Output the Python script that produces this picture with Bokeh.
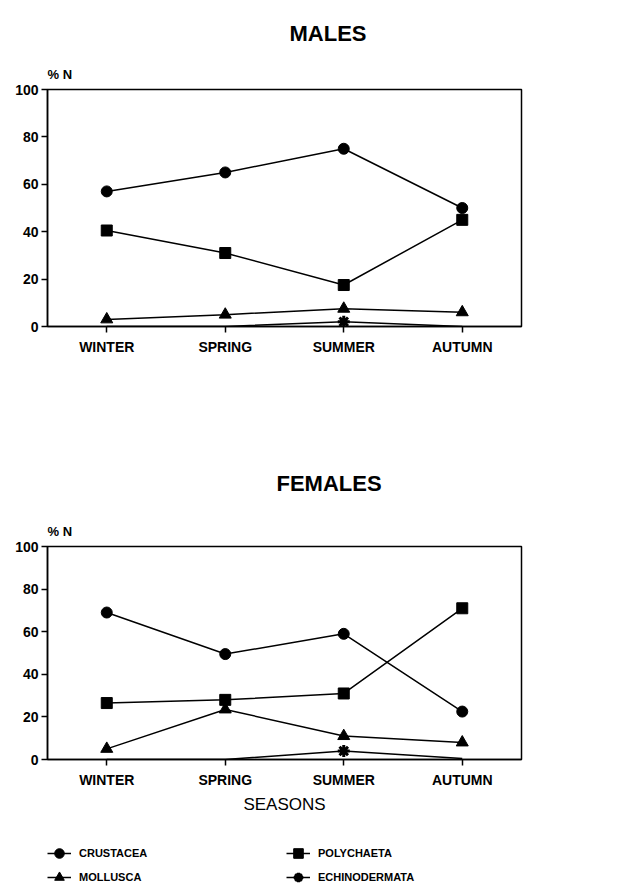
from bokeh.plotting import figure
from bokeh.models import FactorRange, Range1d, Title, Legend, LegendItem
from bokeh.layouts import column
from bokeh.embed import file_html
from bokeh.resources import INLINE

# ---------------- data ----------------
seasons = ["WINTER", "SPRING", "SUMMER", "AUTUMN"]
y_ticks = [0, 20, 40, 60, 80, 100]

groups = ["CRUSTACEA", "MOLLUSCA", "POLYCHAETA", "ECHINODERMATA"]

male_crustacea = [57, 65, 75, 50]
male_polychaeta = [40.5, 31, 17.5, 45]
male_mollusca = [3, 5, 7.5, 6]
male_echinodermata = [0, 0, 2, 0]

female_crustacea = [69, 49.5, 59, 22.5]
female_polychaeta = [26.5, 28, 31, 71]
female_mollusca = [5, 23.5, 11, 8]
female_echinodermata = [0, 0, 4, 0.5]

FONT = "Liberation Sans"
MARKERS = {
    "CRUSTACEA": ("circle", 11, 1),
    "POLYCHAETA": ("square", 11, 1),
    "MOLLUSCA": ("triangle", 12, 1),
    "ECHINODERMATA": ("asterisk", 12, 3),
}


def add_series(p, name, vals, visible=True):
    marker, size, lw = MARKERS[name]
    r1 = p.line(seasons, vals, line_color="black", line_width=1.5,
                visible=visible)
    if name == "ECHINODERMATA":
        xs = [s for s, v in zip(seasons, vals) if v >= 1]
        ys = [v for v in vals if v >= 1]
    else:
        xs, ys = seasons, vals
    r2 = p.scatter(xs, ys, marker=marker, size=size, fill_color="black",
                   line_color="black", line_width=lw, visible=visible)
    return [r1, r2]


def panel(title_text, title_offset, title_standoff, title_valign, series,
          height, mb_top, mb_bottom, xlabel=None):
    p = figure(x_range=FactorRange(*seasons, range_padding=0),
               y_range=Range1d(0, 100), width=636, height=height,
               output_backend="svg", toolbar_location=None,
               min_border_left=47, min_border_right=115,
               min_border_top=mb_top, min_border_bottom=mb_bottom)
    p.add_layout(Title(text="% N", align="left", offset=0, standoff=15,
                       text_font=FONT, text_font_size="13px",
                       text_font_style="bold", text_color="black"), "above")
    p.title.text = title_text
    p.title.align = "left"
    p.title.offset = title_offset
    p.title.standoff = title_standoff
    p.title.vertical_align = title_valign
    p.title.text_font = FONT
    p.title.text_font_size = "22px"
    p.title.text_font_style = "bold"
    p.title.text_color = "black"

    for name, vals in series:
        add_series(p, name, vals)

    p.grid.visible = False
    p.outline_line_color = "black"
    p.outline_line_width = 1.5
    p.background_fill_color = "white"
    p.border_fill_color = "white"

    p.yaxis.ticker = y_ticks
    for ax in (p.xaxis, p.yaxis):
        ax.axis_line_color = "black"
        ax.axis_line_width = 1.5
        ax.major_tick_line_color = "black"
        ax.major_tick_line_width = 1.5
        ax.major_tick_out = 6
        ax.major_tick_in = 0
        ax.minor_tick_line_color = None
        ax.major_label_text_font = FONT
        ax.major_label_text_font_size = "14px"
        ax.major_label_text_font_style = "bold"
        ax.major_label_text_color = "black"
    p.yaxis.major_label_standoff = 3
    p.xaxis.major_label_standoff = 6
    if xlabel:
        p.xaxis.axis_label = xlabel
        p.xaxis.axis_label_text_font = FONT
        p.xaxis.axis_label_text_font_size = "17px"
        p.xaxis.axis_label_text_font_style = "normal"
        p.xaxis.axis_label_text_color = "black"
        p.xaxis.axis_label_standoff = 4
    return p


female_series = [("CRUSTACEA", female_crustacea), ("POLYCHAETA", female_polychaeta),
                 ("MOLLUSCA", female_mollusca), ("ECHINODERMATA", female_echinodermata)]

top = panel("MALES", 242, 20, "top",
            [("CRUSTACEA", male_crustacea), ("POLYCHAETA", male_polychaeta),
             ("MOLLUSCA", male_mollusca), ("ECHINODERMATA", male_echinodermata)],
            height=426, mb_top=89, mb_bottom=100)

bottom = panel("FEMALES", 229, 38, "bottom", female_series,
               height=415, mb_top=120, mb_bottom=82, xlabel="SEASONS")

# legend strip: key renderers (hidden) that only feed the legend glyphs
leg = figure(width=636, height=47, output_backend="svg", toolbar_location=None,
             x_range=FactorRange(*seasons, range_padding=0),
             y_range=Range1d(0, 100),
             min_border_left=47, min_border_right=115,
             min_border_top=0, min_border_bottom=0)
leg.axis.visible = False
leg.grid.visible = False
leg.outline_line_color = None
key = {name: add_series(leg, name, vals, visible=False)
       for name, vals in female_series}
items = [LegendItem(label=name, renderers=key[name]) for name in groups]
legend = Legend(items=items, location="top_left", orientation="vertical",
                ncols=2, margin=0, padding=0, spacing=0,
                glyph_width=24, glyph_height=24, label_standoff=8,
                label_width=207, border_line_color=None,
                background_fill_alpha=0, inactive_fill_alpha=0,
                label_text_font=FONT, label_text_font_size="11px",
                label_text_font_style="bold", label_text_color="black")
leg.add_layout(legend, "center")

layout = column(top, bottom, leg, spacing=0)
open("out.html", "w").write(file_html(layout, INLINE))
